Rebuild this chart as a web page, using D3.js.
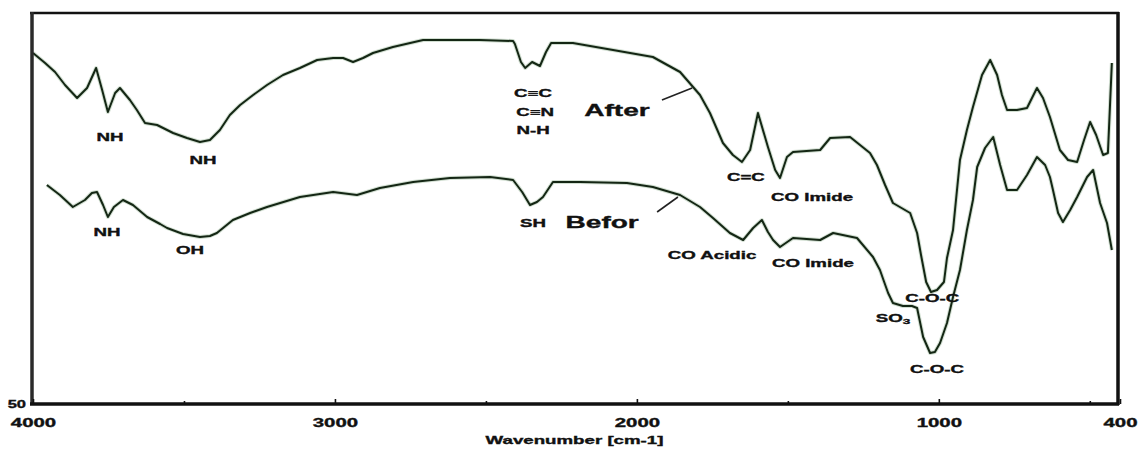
<!DOCTYPE html>
<html>
<head>
<meta charset="utf-8">
<script src="https://cdn.jsdelivr.net/npm/d3@7"></script>
<style>
  html, body { margin: 0; padding: 0; background: #fff; }
  svg { display: block; }
  text { font-family: "Liberation Sans", Arial, sans-serif; font-weight: bold; fill: #111; stroke: #111; stroke-width: 0.35px; }
</style>
</head>
<body>
<svg id="chart" width="1144" height="454"></svg>
<script>
// FTIR spectra: wavenumber (cm-1) and transmittance (%T)
const afterWn = [4000,3960,3927,3894,3854,3821,3791,3771,3752,3728,3712,3679,3656,3629,3589,3536,3490,3447,3414,3381,3348,3314,3271,3225,3172,3116,3059,3006,2973,2940,2907,2874,2808,2708,2619,2520,2410,2404,2384,2370,2347,2321,2301,2284,2212,2079,1947,1857,1814,1791,1758,1715,1682,1652,1625,1599,1566,1542,1526,1503,1483,1393,1360,1294,1228,1205,1178,1152,1095,1072,1059,1042,1026,1006,983,973,953,930,907,887,857,830,807,791,774,741,708,675,655,632,599,572,542,519,499,479,456,440,427];
const afterT = [85.1,84.1,83.2,81.9,80.6,81.6,83.6,81.4,79.2,81.1,81.6,80.4,79.4,78.1,77.9,77.1,76.6,76.2,76.4,77.4,78.9,79.9,80.9,81.9,82.9,83.6,84.4,84.6,84.6,84.2,84.6,85.1,85.7,86.4,86.4,86.4,86.3,86.0,84.2,83.6,84.2,83.8,85.2,86.1,86.1,85.4,84.7,83.2,81.7,80.9,79.1,76.1,74.9,74.2,75.4,79.1,75.7,73.4,72.6,74.7,75.2,75.4,76.6,76.7,75.1,73.9,71.9,70.1,69.1,67.1,64.9,62.2,61.2,61.4,62.2,64.6,67.4,74.4,77.4,79.7,82.9,84.4,82.9,80.9,79.4,79.4,79.6,81.6,80.6,78.7,75.4,74.4,74.2,76.4,78.2,76.9,74.9,75.1,84.1];

const beforeWn = [3954,3911,3868,3828,3805,3788,3768,3752,3732,3702,3669,3622,3579,3556,3503,3447,3414,3391,3338,3281,3225,3116,3006,2927,2851,2741,2619,2486,2410,2380,2354,2331,2311,2278,2188,2033,1947,1857,1791,1748,1692,1648,1615,1586,1566,1549,1526,1483,1393,1350,1271,1218,1195,1181,1168,1152,1119,1089,1072,1052,1029,1013,996,973,953,930,907,887,873,847,820,797,774,741,708,675,648,632,622,605,589,565,542,509,489,466,443,427];
const beforeT = [71.9,70.9,69.7,70.4,71.1,71.2,69.9,68.7,69.7,70.4,69.9,68.7,68.0,67.6,67.0,66.7,66.8,67.1,68.4,69.1,69.7,70.7,71.2,70.9,71.6,72.2,72.6,72.7,72.4,71.2,69.9,70.2,70.7,72.2,72.2,72.1,71.7,70.9,69.7,68.6,67.1,66.4,67.6,68.4,67.2,66.4,65.7,66.6,66.4,67.1,66.6,64.7,63.4,62.2,61.1,60.1,59.8,59.8,59.6,56.7,55.1,55.2,56.1,58.1,60.7,63.4,67.4,70.4,73.7,75.6,76.7,73.9,71.4,71.4,72.9,74.7,73.9,72.7,71.4,69.1,68.2,69.4,70.7,72.7,73.4,70.1,68.1,65.4];

// Axis ticks
const xMajorTicks = [4000, 3000, 2000, 1000, 400];
const xMinorTicks = [3500, 2500, 1500, 500];
const yTicks = [50];
const xTitle = "Wavenumber [cm-1]";

// Band assignments: [text, wavenumber, %T]
const bandLabels = [
  ["NH", 3745, 76.7], ["NH", 3437, 74.4],
  ["C\u2261C", 2344, 81.1], ["C\u2261N", 2337, 79.2], ["N-H", 2344, 77.4],
  ["C=C", 1639, 72.7], ["CO Imide", 1420, 70.7], ["C-O-C", 1022, 60.6],
  ["NH", 3755, 67.2], ["OH", 3480, 65.4], ["SH", 2344, 68.1],
  ["CO Acidic", 1751, 64.9], ["CO Imide", 1417, 64.1], ["C-O-C", 1006, 53.5]
];
const so3Label = ["SO", "3", 1152, 58.6];

// Series names with leader lines: [text, wn, %T, leader start wn, %T, leader end wn, %T]
const seriesLabels = [
  ["After", 2066, 79.4, 1917, 80.4, 1817, 81.6],
  ["Befor", 2115, 68.2, 1933, 69.2, 1864, 70.7]
];

const STRETCH = 1.7;
const svg = d3.select("#chart");
const x = d3.scaleLinear().domain([4000, 400]).range([33, 1120]);
const y = d3.scaleLinear().domain([50, 89]).range([404, 14]);

const frame = { left: 32, right: 1118, top: 13, bottom: y(50) };

// Spectra
const line = d3.line().x(d => x(d[0])).y(d => y(d[1]));
const series = [d3.zip(afterWn, afterT), d3.zip(beforeWn, beforeT)];
const g = svg.append("g");
series.forEach(s => {
  g.append("path").datum(s).attr("d", line)
    .attr("fill", "none").attr("stroke", "#9bb89b").attr("stroke-width", 4)
    .attr("stroke-opacity", 0.45).attr("stroke-linejoin", "round");
  g.append("path").datum(s).attr("d", line)
    .attr("fill", "none").attr("stroke", "#142614").attr("stroke-width", 2)
    .attr("stroke-linejoin", "round");
});

// Frame
const fr = svg.append("g").attr("stroke", "#111");
fr.append("line").attr("x1", frame.left - 2).attr("x2", frame.right + 1)
  .attr("y1", frame.top).attr("y2", frame.top).attr("stroke-width", 2.5);
fr.append("line").attr("x1", frame.left).attr("x2", frame.left)
  .attr("y1", frame.top - 1).attr("y2", frame.bottom + 1).attr("stroke-width", 3.5).attr("stroke", "#2a2a2a");
fr.append("line").attr("x1", frame.right).attr("x2", frame.right)
  .attr("y1", frame.top - 1).attr("y2", frame.bottom + 1).attr("stroke-width", 3.5);
fr.append("line").attr("x1", frame.left - 2).attr("x2", frame.right + 1)
  .attr("y1", frame.bottom).attr("y2", frame.bottom).attr("stroke-width", 3.5);

// X axis: major ticks with labels, minor ticks without
const xMajor = svg.append("g").attr("transform", `translate(0,${frame.bottom})`)
  .call(d3.axisBottom(x).tickValues(xMajorTicks).tickSize(-5).tickPadding(14).tickFormat(d3.format("d")));
const xMinor = svg.append("g").attr("transform", `translate(0,${frame.bottom})`)
  .call(d3.axisBottom(x).tickValues(xMinorTicks).tickSize(-3).tickFormat(""));
[xMajor, xMinor].forEach(a => {
  a.select(".domain").remove();
  a.selectAll("line").attr("stroke", "#111").attr("stroke-width", 1.6);
});
xMajor.selectAll("text").attr("font-size", 12).attr("fill", "#111")
  .attr("transform", `scale(${STRETCH},1)`);

// Y axis: bottom value only
const yAx = svg.append("g").attr("transform", `translate(${frame.left},0)`)
  .call(d3.axisLeft(y).tickValues(yTicks).tickSize(0).tickPadding(4));
yAx.select(".domain").remove();
yAx.selectAll("text").attr("font-size", 11).attr("fill", "#111")
  .attr("transform", "scale(1.5,1)");

// Axis title
svg.append("text")
  .attr("transform", `translate(${(x(4000) + x(400)) / 2 - 2},440) scale(${STRETCH},1)`)
  .attr("text-anchor", "middle").attr("dominant-baseline", "central")
  .attr("font-size", 11).text(xTitle);

// Band labels
const lab = svg.append("g");
bandLabels.forEach(([t, wn, v]) => {
  lab.append("text")
    .attr("transform", `translate(${x(wn)},${y(v)}) scale(${STRETCH},1)`)
    .attr("text-anchor", "middle").attr("dominant-baseline", "central")
    .attr("font-size", 11).text(t);
});
const so3 = lab.append("text")
  .attr("transform", `translate(${x(so3Label[2])},${y(so3Label[3])}) scale(${STRETCH},1)`)
  .attr("text-anchor", "middle").attr("dominant-baseline", "central")
  .attr("font-size", 11);
so3.append("tspan").text(so3Label[0]);
so3.append("tspan").attr("font-size", 8).attr("dy", 3).text(so3Label[1]);

// Series names and leader lines
seriesLabels.forEach(([t, wn, v, w1, v1, w2, v2]) => {
  lab.append("text")
    .attr("transform", `translate(${x(wn)},${y(v)}) scale(1.65,1)`)
    .attr("text-anchor", "middle").attr("dominant-baseline", "central")
    .attr("font-size", 17).text(t);
  lab.append("line")
    .attr("x1", x(w1)).attr("y1", y(v1)).attr("x2", x(w2)).attr("y2", y(v2))
    .attr("stroke", "#222").attr("stroke-width", 1.6);
});
</script>
</body>
</html>
